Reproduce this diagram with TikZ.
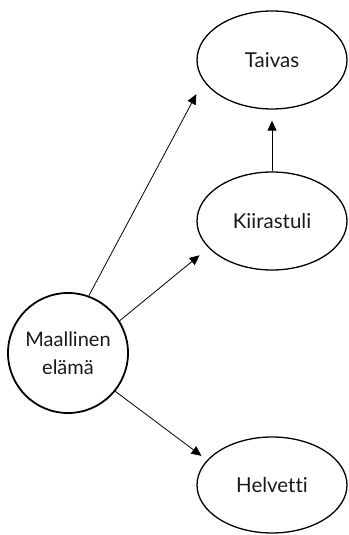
\documentclass[tikz,border=0pt]{standalone}
\usepackage{fontspec}
\setmainfont{Lato}[Ligatures=NoCommon]
\usetikzlibrary{arrows.meta,shapes.geometric}
\begin{document}
\begin{tikzpicture}[x=1pt,y=1pt,
  oval/.style={draw, ellipse, line width=1.3pt, minimum width=150pt, minimum height=98pt, inner sep=0pt, font=\fontsize{20.5}{24}\selectfont, text=black!90},
  disc/.style={draw, circle, line width=1.8pt, minimum size=120pt, inner sep=0pt, align=center, font=\fontsize{20}{28}\selectfont, text=black!90},
  conn/.style={line width=0.8pt, -{Triangle[length=10pt,width=9pt]}}
]
\useasboundingbox (0,0) rectangle (348,535);
\node[oval] (t) at (272,475) {Taivas};
\node[oval] (k) at (272,314) {Kiirastuli};
\node[oval, minimum height=96pt] (h) at (272,50) {Helvetti};
\node[disc] (m) at (68,182) {Maallinen\\elämä};
\draw[conn, shorten >=15pt] (m.70) -- (t.197);
\draw[conn, shorten >=11.5pt] (m.32) -- (k.203);
\draw[conn, shorten >=7pt] (m.-39) -- (h.159);
\draw[conn, shorten >=11pt] (k.north) -- (t.south);
\end{tikzpicture}
\end{document}
